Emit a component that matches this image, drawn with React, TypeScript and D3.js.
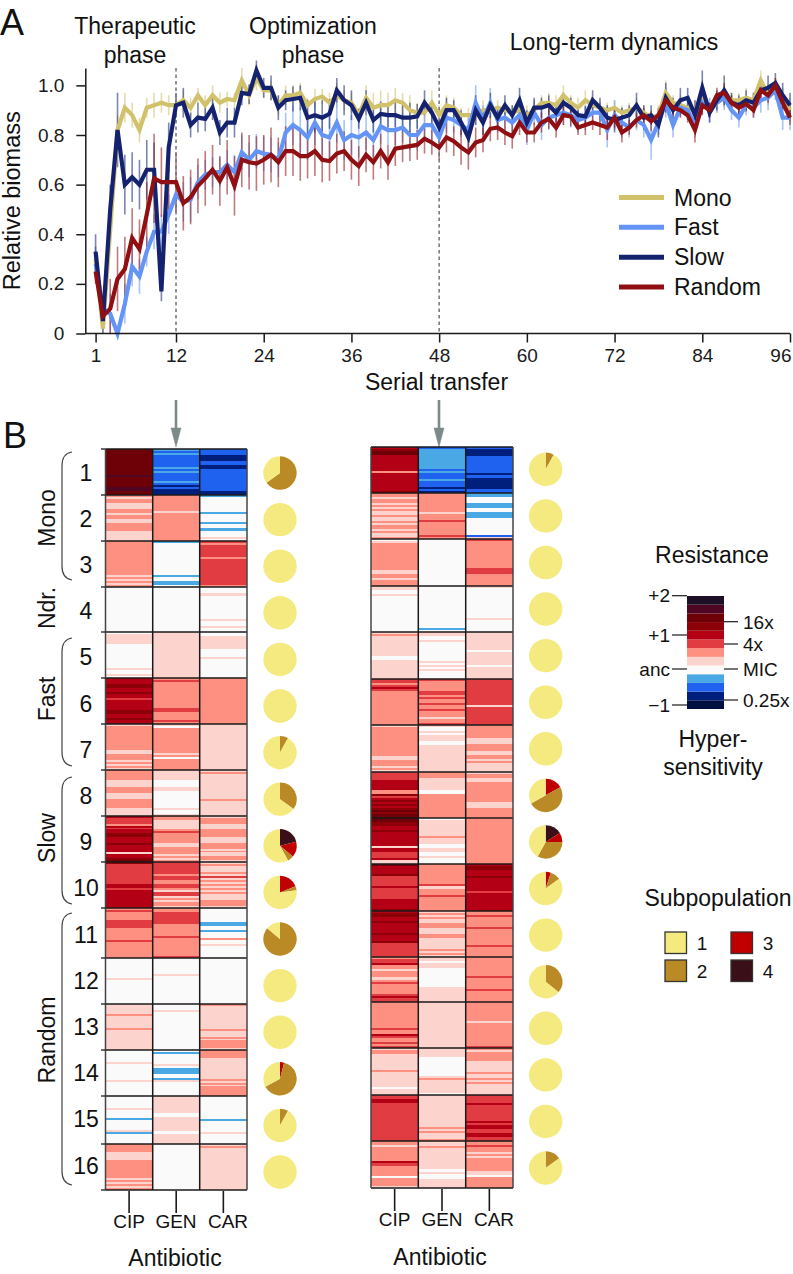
import { useRef, useEffect } from 'react';
import * as d3 from 'd3';

// ---------------------------------------------------------------------------
// Panel A data (one value per serial transfer, 1..96)
// ---------------------------------------------------------------------------
const MONO = [
  .30,.02,.42,.82,.91,.88,.82,.91,.92,.93,.92,.92,
  .94,.91,.96,.92,.96,.93,.945,.94,1.02,.96,1.03,.98,
  .98,.92,.96,.96,.97,.92,.945,.955,.93,.96,.94,.93,
  .88,.95,.91,.92,.92,.94,.93,.90,.89,.89,.93,.88,
  .92,.91,.88,.88,.88,.90,.90,.91,.90,.89,.90,.88,
  .90,.93,.93,.92,.96,.93,.91,.94,.92,.91,.90,.91,
  .89,.90,.91,.89,.87,.88,.97,.93,.92,.91,.90,.96,
  .90,.93,.96,.94,.94,.95,.94,1.02,.96,1.0,.95,.90,
];
const FAST = [
  .28,.10,.08,0,.12,.27,.23,.33,.41,.41,.48,.56,
  .53,.54,.61,.64,.65,.65,.68,.65,.73,.70,.735,.725,
  .72,.70,.81,.84,.82,.79,.85,.80,.79,.85,.78,.80,
  .79,.81,.78,.835,.82,.82,.83,.80,.80,.84,.84,.79,
  .87,.86,.84,.82,.93,.86,.93,.86,.87,.85,.88,.82,
  .89,.84,.87,.88,.89,.88,.86,.87,.89,.89,.82,.88,
  .85,.83,.86,.84,.78,.85,.93,.84,.91,.90,.84,.93,
  .90,.93,.95,.90,.87,.92,.91,.94,.95,.98,.87,.87,
];
const SLOW = [
  .33,.05,.50,.82,.60,.63,.60,.66,.66,.17,.75,.92,
  .93,.84,.87,.865,.91,.81,.85,.85,.97,.965,1.06,.99,
  .99,.91,.94,.945,.95,.87,.88,.87,.885,.98,.94,.92,
  .865,.93,.86,.885,.88,.88,.87,.87,.875,.93,.89,.83,
  .90,.90,.85,.79,.90,.85,.92,.87,.92,.88,.94,.85,
  .91,.91,.92,.89,.93,.91,.88,.875,.94,.91,.87,.86,
  .87,.88,.92,.87,.88,.84,.95,.90,.94,.95,.88,.99,
  .89,.94,.98,.93,.92,.94,.93,.98,.99,1.01,.96,.92,
];
const RANDOM = [
  .25,.07,.10,.22,.26,.385,.34,.48,.625,.61,.61,.61,
  .525,.55,.595,.625,.66,.615,.67,.595,.70,.69,.685,.70,
  .72,.69,.735,.735,.715,.715,.735,.70,.695,.725,.735,.70,
  .675,.72,.69,.735,.69,.745,.75,.755,.76,.785,.77,.75,
  .79,.775,.75,.73,.77,.78,.825,.83,.81,.795,.85,.81,
  .81,.85,.865,.83,.88,.875,.83,.84,.85,.84,.83,.87,
  .81,.83,.86,.88,.855,.88,.94,.91,.90,.88,.82,.92,
  .90,.96,.97,.93,.91,.925,.90,.98,.96,1.0,.93,.87,
];
const MONO_ERR = [
  .05,.03,.08,.06,.06,.05,.05,.04,.05,.04,.04,.03,
  .04,.04,.03,.04,.04,.04,.03,.03,.05,.04,.05,.03,
  .04,.04,.04,.04,.04,.03,.04,.03,.04,.05,.04,.04,
  .03,.05,.06,.06,.05,.05,.04,.06,.04,.04,.05,.04,
  .04,.04,.03,.03,.04,.04,.03,.03,.04,.03,.04,.04,
  .04,.03,.04,.04,.04,.03,.04,.04,.03,.03,.03,.03,
  .03,.03,.04,.03,.03,.04,.05,.03,.04,.04,.04,.05,
  .03,.04,.05,.03,.03,.04,.03,.04,.04,.03,.04,.05,
];
const FAST_ERR = [
  .07,.05,.08,.02,.08,.08,.07,.06,.07,.07,.08,.07,
  .08,.09,.07,.06,.06,.06,.06,.07,.07,.07,.07,.07,
  .07,.07,.08,.08,.09,.09,.09,.08,.09,.08,.08,.08,
  .08,.07,.07,.07,.06,.06,.06,.06,.06,.06,.06,.05,
  .06,.05,.05,.05,.07,.06,.06,.05,.05,.04,.05,.06,
  .05,.06,.05,.05,.05,.05,.05,.05,.04,.04,.07,.06,
  .06,.04,.04,.05,.08,.05,.06,.05,.04,.04,.05,.05,
  .05,.04,.05,.04,.04,.04,.04,.05,.05,.04,.05,.05,
];
const SLOW_ERR = [
  .07,.06,.10,.15,.12,.10,.10,.12,.11,.04,.10,.05,
  .06,.05,.06,.05,.05,.05,.06,.06,.05,.04,.04,.04,
  .05,.05,.04,.05,.05,.07,.07,.07,.06,.05,.06,.06,
  .04,.05,.05,.05,.05,.05,.06,.06,.05,.05,.05,.05,
  .05,.04,.05,.05,.06,.05,.05,.04,.04,.04,.05,.05,
  .04,.04,.04,.04,.04,.04,.04,.04,.04,.04,.05,.05,
  .04,.04,.05,.05,.04,.05,.06,.05,.05,.04,.06,.07,
  .04,.04,.06,.04,.04,.04,.04,.04,.05,.04,.05,.05,
];
const RANDOM_ERR = [
  .05,.04,.12,.13,.13,.12,.12,.13,.18,.14,.13,.12,
  .11,.11,.11,.11,.10,.10,.11,.12,.11,.11,.11,.10,
  .11,.10,.10,.10,.10,.09,.10,.09,.08,.08,.08,.08,
  .08,.07,.07,.07,.07,.07,.06,.06,.06,.06,.05,.05,
  .06,.06,.07,.07,.06,.05,.05,.05,.05,.05,.05,.04,
  .04,.04,.04,.04,.04,.04,.03,.04,.03,.04,.05,.04,
  .04,.03,.03,.03,.04,.03,.04,.03,.03,.03,.05,.04,
  .03,.03,.04,.03,.03,.03,.03,.03,.03,.03,.03,.03,
];

const SERIES_NAMES = ['Mono', 'Fast', 'Slow', 'Random'];
const SERIES_COLORS = ['#d1c16b', '#6494f5', '#14226f', '#8f0f12'];
const SERIES_VALUES = [MONO, FAST, SLOW, RANDOM];
const SERIES_ERRORS = [MONO_ERR, FAST_ERR, SLOW_ERR, RANDOM_ERR];
const X_TICKS = [1, 12, 24, 36, 48, 60, 72, 84, 96];
const Y_TICKS = [0, 0.2, 0.4, 0.6, 0.8, 1.0];
const PHASE_LINES = [12, 48];

// ---------------------------------------------------------------------------
// Panel B data: each string is one heat map cell, one letter per stripe
// ---------------------------------------------------------------------------
const LEVEL_KEYS = 'abcdefghijklm';
const LEVEL_COLORS = [
  '#001040', '#001f7d', '#1f62ef', '#4aa8e4', '#fafafa', '#fdd4cd', '#fd9080',
  '#e03c42', '#b30014', '#8c0007', '#6e0008', '#4f0622', '#1d0f25',
];
const ANTIBIOTICS = ['CIP', 'GEN', 'CAR'];
const POPULATIONS = d3.range(1, 17);

const LEFT_CIP = [
  'kkkkkkkkkkkkklkkkkkllkk',
  'gfggfffggfggffggggfffff',
  'gggggggggggggggggfgfgfg',
  'eeeeeeeeeeeeeeeeeeeeeee',
  'efffffeeeeeeeeeeeefeefe',
  'iiijjiijiihiiiiijjiijii',
  'fggggggggggggffgggfgfgf',
  'gggggfffgggfffggggffff',
  'ihhhgihiijjiiijiiiifiijk',
  'jhhhhhhhhhhiihiiiiiiiii',
  'ghgggghhhhgggggghgggggggg',
  'eeeeeeeeeefeeeeeeeeeeee',
  'fffffgffffffgffffffffff',
  'eeeeeefeeeeeeeefeeeeeee',
  'eeeeeefeeeedeeeeefdeeeee',
  'ggggffffgggggggggfgfgfg',
];
const LEFT_GEN = [
  'dcdccccccdcdccccdcbcbbb',
  'ggggggggfgggggggggggggg',
  'deeeeeeeeeeeeeeeedeedde',
  'eeeeeeeeeeeeeeeeeeeeeee',
  'fffffffffffffffffffffff',
  'ghggggggggggggghhgggghg',
  'fegggggggggggggfgegggggg',
  'fffffeeeffeeeeeeeefeef',
  'ggffffghgggggffgggfgfg',
  'hhhhhhghhgghhgfhhfgfggf',
  'gghhhhhhgggggghgggggggggh',
  'eeeeeeeefeeeeeeeeeeeeee',
  'eeefeeeeeeeeeeeeeeeeeee',
  'edeeeeefedddeedfeeeeeee',
  'ffffffffeefffffffefffff',
  'eeeeeeeeeeeeeeeeeeeeeee',
];
const LEFT_CAR = [
  'cccbbbccbbcccccccccccbb',
  'deeeeeeeedeeeedeeddeeefe',
  'hghhhhhhghhhhhhhhhhhhhg',
  'eeefeeeeeeeeeeefeefee',
  'eeffffffeeeefeeeeeeeee',
  'ggggggggggggggggggggggg',
  'fffffffffffffffffffffff',
  'fgffffffffffffgfffffff',
  'fgggfffggggfffgggfgffggf',
  'fgfffgfhfgfgfgfgfffgggf',
  'eeeeeeeddeedeeegeefeeeeee',
  'eeeeeeeeeeeeeeeeeeeeeee',
  'gffffffffffffgfffgfggggf',
  'ggggfffffffffffgfgfggggg',
  'eeeeeeeeeeeedeeeeeefeeeee',
  'fgffffffffffffffffffff',
];
const RIGHT_CIP = [
  'ijkkiiiiiiiigiiiiiiiiij',
  'ggfggfgfgffgffgfggfgffg',
  'efgggggggggggggffggfggg',
  'ffeefeeeeeeeeeeeeeeeeee',
  'fgfffffffffeefffffffff',
  'hhghihggggggggggggggggg',
  'fggggggggggggggffgggfgf',
  'hhhhiiiiiggjhijijijkjkk',
  'kkjjiijiiiiiiifiihhhiff',
  'kiiiijhhhhhihhhhhhiiiiij',
  'ijjiijiiiiijiiijhhhhhhh',
  'ghhiggfgggfghggggghihh',
  'ggggggggggggghggihgghgh',
  'fggffffffffgffffffffefff',
  'hhiihhhhhhhhhhhhhhhhhhh',
  'ggfgggggggihgggggeggggf',
];
const RIGHT_GEN = [
  'cddddddddddcdcccdcccbcb',
  'ggggggggggfggghggggggghg',
  'eeeeeeeeeeeeeeeeeeeeeee',
  'eeeeeeeeeeeeeeeeeeeeeede',
  'ffeefeeeeeeeeefefefeeee',
  'hggggghhghgghgghgggfggh',
  'feefefffeefffffffffffff',
  'gggffffffeegggggggggggg',
  'effffffffgfffeeffeefeee',
  'gggggggggghffggghggggggg',
  'fgfgffgggfffggffffffgfgf',
  'ffeffeeeeeeeeefffffff',
  'fffffffffffffffffffffff',
  'ffffeeeeeeeeefgffffffe',
  'ffffffffffffffffgfgfffg',
  'ffgfffffffffefeeffff',
];
const RIGHT_CAR = [
  'cbbbccccccccbcbbbbbcc',
  'ddeeeddeedddeeeeeeeecf',
  'hggggggggggggghhhgggggg',
  'feeeeeeeeeeeeeeefeeeeee',
  'fffffffffeffffffeffffff',
  'hhhhhhhhhhhhhfhhhhhhhhh',
  'ggggggfffgggffggfgffff',
  'fggffggggggggggfffggggg',
  'ggggggggggggggggggggggg',
  'ijjiiijiiiiiihiiiiiiiii',
  'gghggggghgggggggghggggg',
  'ggggggggghggggghggggg',
  'gggggggggfgggggggggggh',
  'gfggggfffffgffgfgfffff',
  'hhhhihhhhhhhhihiihhiihh',
  'gghggfgfggggggffeggggg',
];

// subpopulation shares per population: [1, 2, 3, 4]
const LEFT_PIES = [
  [.35,.65,0,0],[1,0,0,0],[1,0,0,0],[1,0,0,0],[1,0,0,0],[1,0,0,0],[.92,.08,0,0],[.65,.35,0,0],
  [.58,.06,.15,.21],[.77,.04,.19,0],[.14,.86,0,0],[1,0,0,0],[1,0,0,0],[.33,.63,.04,0],[.92,.08,0,0],[1,0,0,0],
];
const RIGHT_PIES = [
  [.92,.08,0,0],[1,0,0,0],[1,0,0,0],[1,0,0,0],[1,0,0,0],[1,0,0,0],[1,0,0,0],[.33,.5,.17,0],
  [.42,.33,.09,.16],[.85,.1,.05,0],[1,0,0,0],[.64,.36,0,0],[1,0,0,0],[1,0,0,0],[1,0,0,0],[.85,.15,0,0],
];
const SUB_COLORS = ['#f5ea80', '#b98a25', '#c00000', '#3a0f17'];

// horizontal row boundaries of the two heat maps
const LEFT_ROWS = [449, 495, 541, 587, 632, 678, 724, 770, 816, 862, 908, 958, 1004, 1050, 1096, 1144, 1190];
const RIGHT_ROWS = [447, 493, 539, 586, 632, 679, 725, 772, 818, 864, 911, 957, 1002, 1048, 1095, 1141, 1188];

const GROUPS = [
  { name: 'Mono', top: 452, bottom: 580, label: 518 },
  { name: 'Ndr.', top: 0, bottom: 0, label: 608 },
  { name: 'Fast', top: 638, bottom: 766, label: 699 },
  { name: 'Slow', top: 777, bottom: 904, label: 838 },
  { name: 'Random', top: 913, bottom: 1185, label: 1040 },
];

const INK = '#1a1a1a';
const FONT = '"Liberation Sans", Arial, sans-serif';

// ---------------------------------------------------------------------------
// Panel A
// ---------------------------------------------------------------------------
const x = d3.scaleLinear().domain([1, 96]).range([95.6, 790]);
const y = d3.scaleLinear().domain([0, 1.07]).range([333.5, 68]);

function BiomassAxes() {
  const xRef = useRef<SVGGElement>(null);
  const yRef = useRef<SVGGElement>(null);

  useEffect(() => {
    const gx = d3.select(xRef.current!);
    gx.call(d3.axisBottom(x).tickValues(X_TICKS).tickSize(9).tickSizeOuter(0).tickPadding(6) as any);
    gx.select('.domain').remove();
    const gy = d3.select(yRef.current!);
    gy.call(
      d3.axisLeft(y).tickValues(Y_TICKS).tickSize(9).tickSizeOuter(0).tickPadding(12)
        .tickFormat((d) => (+d === 0 ? '0' : d3.format('.1f')(+d))) as any,
    );
    [gx, gy].forEach((g) => {
      g.selectAll('line').attr('stroke', INK).attr('stroke-width', 1.5);
      g.selectAll('path').attr('stroke', INK).attr('stroke-width', 1.5);
      g.selectAll('text').attr('fill', INK).attr('font-size', 19).attr('font-family', FONT);
    });
    // the last label stays inside the page edge
    gx.selectAll('.tick:last-of-type text').attr('text-anchor', 'end').attr('x', 1);
  }, []);

  return (
    <g>
      <g ref={xRef} transform="translate(0,333.5)" />
      <g ref={yRef} transform="translate(85.3,0)" />
      <line x1={85} x2={790} y1={333.5} y2={333.5} stroke={INK} strokeWidth={1.5} />
    </g>
  );
}

function BiomassPanel() {
  const line = d3.line<number>().x((_, i) => x(i + 1)).y((d) => y(d));
  const legendY = d3.scalePoint<string>().domain(SERIES_NAMES).range([197.5, 287]);

  return (
    <g>
      {SERIES_VALUES.map((values, s) => (
        <g key={SERIES_NAMES[s]} stroke={SERIES_COLORS[s]} strokeWidth={1.6} opacity={0.55}>
          {values.map((v, i) => (
            <line
              key={i}
              x1={x(i + 1)}
              x2={x(i + 1)}
              y1={y(Math.max(0, v - SERIES_ERRORS[s][i]))}
              y2={y(v + SERIES_ERRORS[s][i])}
            />
          ))}
        </g>
      ))}
      {PHASE_LINES.map((t) => (
        <line key={t} x1={x(t)} x2={x(t)} y1={68} y2={333} stroke="#6f7476" strokeWidth={1.5} strokeDasharray="3.5,3" />
      ))}
      {SERIES_VALUES.map((values, s) => (
        <path
          key={SERIES_NAMES[s]}
          d={line(values) ?? ''}
          fill="none"
          stroke={SERIES_COLORS[s]}
          strokeWidth={4.2}
          strokeLinejoin="miter"
        />
      ))}
      <BiomassAxes />
      {SERIES_NAMES.map((name, s) => (
        <g key={name}>
          <line x1={619} x2={664} y1={legendY(name)} y2={legendY(name)} stroke={SERIES_COLORS[s]} strokeWidth={5} />
          <text x={674} y={legendY(name)! + 8} fontSize={23}>{name}</text>
        </g>
      ))}
      <text x={135} y={34} fontSize={23} textAnchor="middle">Therapeutic</text>
      <text x={135} y={63} fontSize={23} textAnchor="middle">phase</text>
      <text x={313} y={34} fontSize={23} textAnchor="middle">Optimization</text>
      <text x={313} y={63} fontSize={23} textAnchor="middle">phase</text>
      <text x={614} y={50} fontSize={23} textAnchor="middle">Long-term dynamics</text>
      <text x={436.5} y={390} fontSize={23} textAnchor="middle">Serial transfer</text>
      <text transform="translate(20,200.7) rotate(-90)" fontSize={23.5} textAnchor="middle">Relative biomass</text>
      <text x={0} y={35} fontSize={36}>A</text>
    </g>
  );
}

// ---------------------------------------------------------------------------
// Panel B
// ---------------------------------------------------------------------------
const levelColor = d3.scaleOrdinal<string, string>().domain(LEVEL_KEYS.split('')).range(LEVEL_COLORS);

function HeatMap({ columns, rows, colX }: { columns: string[][]; rows: number[]; colX: number[] }) {
  return (
    <g>
      {columns.map((cells, c) =>
        cells.map((cell, r) => {
          const stripe = d3.scaleLinear().domain([0, cell.length]).range([rows[r], rows[r + 1]]);
          return cell.split('').map((level, i) => (
            <rect
              key={`${c}-${r}-${i}`}
              x={colX[c]}
              width={colX[c + 1] - colX[c]}
              y={stripe(i)}
              height={stripe(i + 1) - stripe(i)}
              fill={levelColor(level)}
              shapeRendering="crispEdges"
            />
          ));
        }),
      )}
      {rows.map((ry) => (
        <line key={ry} x1={colX[0]} x2={colX[3]} y1={ry} y2={ry} stroke={INK} strokeWidth={1.5} />
      ))}
      {colX.map((cx, i) => (
        <line
          key={cx}
          x1={cx}
          x2={cx}
          y1={rows[0]}
          y2={rows[16]}
          stroke={i === 0 || i === 3 ? '#444' : INK}
          strokeWidth={1.5}
        />
      ))}
    </g>
  );
}

function Pies({ shares, cx, range }: { shares: number[][]; cx: number; range: [number, number] }) {
  const cy = d3.scalePoint<number>().domain(POPULATIONS).range(range);
  const pie = d3.pie<number>().sort(null).value((d) => d);
  const arc = d3.arc<d3.PieArcDatum<number>>().innerRadius(0).outerRadius(16.7);
  return (
    <g>
      {shares.map((share, r) => (
        <g key={r} transform={`translate(${cx},${cy(r + 1)})`}>
          {/* drawn clockwise from the top: 4, 3, 2, 1 */}
          {pie([...share].reverse()).map((slice, i) =>
            slice.value > 0 ? <path key={i} d={arc(slice) ?? ''} fill={SUB_COLORS[3 - i]} /> : null,
          )}
        </g>
      ))}
    </g>
  );
}

function ColorBar() {
  const bar = d3.scaleLinear().domain([0, LEVEL_COLORS.length]).range([709, 596]);
  const leftTicks = [
    { label: '+2', y: 595.7 },
    { label: '+1', y: 635 },
    { label: 'anc', y: 669 },
    { label: '\u22121', y: 705 },
  ];
  const rightTicks = [
    { label: '16x', y: 621.7 },
    { label: '4x', y: 644 },
    { label: 'MIC', y: 669 },
    { label: '0.25x', y: 700 },
  ];
  return (
    <g>
      {LEVEL_COLORS.map((color, i) => (
        <rect key={color} x={687} width={37} y={bar(i + 1)} height={bar(i) - bar(i + 1)} fill={color} />
      ))}
      {leftTicks.map((t) => (
        <g key={t.label}>
          <line x1={672} x2={687} y1={t.y} y2={t.y} stroke={INK} strokeWidth={1.2} />
          <text x={670} y={t.y + 6.5} fontSize={19} textAnchor="end">{t.label}</text>
        </g>
      ))}
      {rightTicks.map((t) => (
        <g key={t.label}>
          <line x1={724} x2={738} y1={t.y} y2={t.y} stroke={INK} strokeWidth={1.2} />
          <text x={743} y={t.y + 7} fontSize={19}>{t.label}</text>
        </g>
      ))}
      <text x={712} y={562.7} fontSize={23} textAnchor="middle">Resistance</text>
      <text x={713} y={746.7} fontSize={23} textAnchor="middle">Hyper-</text>
      <text x={713} y={775} fontSize={23} textAnchor="middle">sensitivity</text>
    </g>
  );
}

function SubLegend() {
  const swatchX = [665, 731];
  const swatchY = [932, 960];
  return (
    <g>
      <text x={718} y={905.7} fontSize={23} textAnchor="middle">Subpopulation</text>
      {SUB_COLORS.map((color, i) => {
        const col = i < 2 ? 0 : 1;
        const row = i % 2;
        return (
          <g key={color}>
            <rect x={swatchX[col]} y={swatchY[row]} width={21.5} height={21.5} fill={color} stroke="#333" strokeWidth={1.3} />
            <text x={swatchX[col] + 37} y={swatchY[row] + 18} fontSize={19} textAnchor="middle">{i + 1}</text>
          </g>
        );
      })}
    </g>
  );
}

function Arrow({ ax }: { ax: number }) {
  return (
    <g fill="#7d8a8a" stroke="#7d8a8a">
      <line x1={ax} x2={ax} y1={400} y2={430} strokeWidth={2.6} />
      <path d={`M${ax - 5},428 L${ax + 5},428 L${ax},447 Z`} strokeWidth={0.5} />
    </g>
  );
}

export default function App() {
  const numberY = d3.scalePoint<number>().domain(POPULATIONS).range([472, 1165]);
  const leftX = [105.5, 152.7, 199.7, 247];
  const rightX = [371, 418.3, 465.7, 513];
  const leftLabelX = [129, 176, 228];
  const rightLabelX = [394.7, 442, 494];

  return (
    <svg
      width={793}
      height={1274}
      viewBox="0 0 793 1274"
      fontFamily={FONT}
      fill="#111"
      style={{ position: 'absolute', left: 0, top: 0, background: '#fff' }}
    >
      <BiomassPanel />

      <text x={3} y={448} fontSize={36}>B</text>
      <Arrow ax={176} />
      <Arrow ax={439} />

      <HeatMap columns={[LEFT_CIP, LEFT_GEN, LEFT_CAR]} rows={LEFT_ROWS} colX={leftX} />
      <HeatMap columns={[RIGHT_CIP, RIGHT_GEN, RIGHT_CAR]} rows={RIGHT_ROWS} colX={rightX} />

      {LEFT_ROWS.map((ry) => (
        <line key={ry} x1={101} x2={105.5} y1={ry} y2={ry} stroke={INK} strokeWidth={1.3} />
      ))}

      <Pies shares={LEFT_PIES} cx={280} range={[473, 1172]} />
      <Pies shares={RIGHT_PIES} cx={545.7} range={[469.3, 1168]} />

      {POPULATIONS.map((p) => (
        <text key={p} x={86} y={numberY(p)! + 8.5} fontSize={23} textAnchor="middle">{p}</text>
      ))}

      {GROUPS.map((g) => (
        <g key={g.name}>
          <text transform={`translate(55,${g.label}) rotate(-90)`} fontSize={23} textAnchor="middle">{g.name}</text>
          {g.bottom > 0 && (
            <path
              d={`M72,${g.top} C65,${g.top + 1} 62,${g.top + 6} 62,${g.top + 14} L62,${g.bottom - 14} C62,${g.bottom - 6} 65,${g.bottom - 1} 72,${g.bottom}`}
              fill="none"
              stroke="#444"
              strokeWidth={1.2}
            />
          )}
        </g>
      ))}

      {ANTIBIOTICS.map((name, i) => (
        <g key={name}>
          <line x1={(leftX[i] + leftX[i + 1]) / 2} x2={(leftX[i] + leftX[i + 1]) / 2} y1={1191} y2={1213} stroke={INK} strokeWidth={1.6} />
          <text x={leftLabelX[i]} y={1228} fontSize={19} textAnchor="middle">{name}</text>
          <line x1={(rightX[i] + rightX[i + 1]) / 2} x2={(rightX[i] + rightX[i + 1]) / 2} y1={1189} y2={1211} stroke={INK} strokeWidth={1.6} />
          <text x={rightLabelX[i]} y={1226} fontSize={19} textAnchor="middle">{name}</text>
        </g>
      ))}
      <text x={175} y={1266} fontSize={23} textAnchor="middle">Antibiotic</text>
      <text x={440} y={1265} fontSize={23} textAnchor="middle">Antibiotic</text>

      <ColorBar />
      <SubLegend />
    </svg>
  );
}
